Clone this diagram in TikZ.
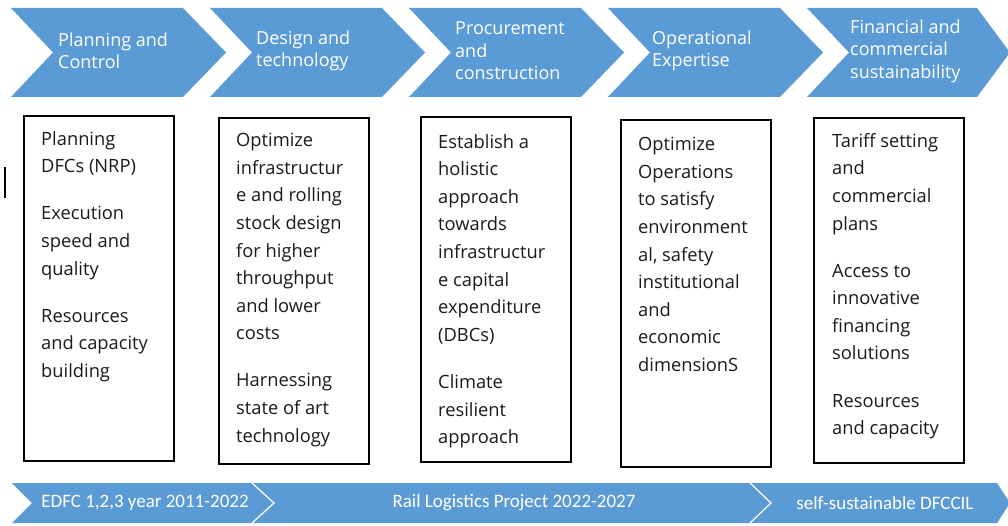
\documentclass[tikz,border=0pt]{standalone}
\usepackage{fontspec}
\setmainfont{Open Sans}
\newfontfamily\barfont{Carlito}
\definecolor{stageblue}{HTML}{5B9BD5}
\definecolor{inkgray}{HTML}{1A1A1A}
\begin{document}
\begin{tikzpicture}[x=1pt,y=-1pt,
  chev/.style={fill=stageblue, draw=none},
  stagetext/.style={text=white, align=left, anchor=west, inner sep=0pt,
    font=\fontsize{18}{22.5}\selectfont},
  listbox/.style={draw=black, line width=1.4pt},
  listtext/.style={text=inkgray, align=left, anchor=north west, inner sep=0pt,
    font=\fontsize{18.3}{27.6}\selectfont},
  bartext/.style={text=white, inner sep=0pt, font=\barfont\fontsize{19}{22}\selectfont},
  divider/.style={draw=white, line width=1.2pt}]
\useasboundingbox (0,0) rectangle (1008,526);
\fill[white] (0,0) rectangle (1008,526);

% stage chevrons along the top
\foreach \x in {11,210,409,608}
  \fill[chev] (\x,8) -- ++(172,0) -- ++(43,44.5) -- ++(-43,44.5) -- ++(-172,0) -- ++(42,-44.5) -- cycle;
\fill[chev] (807,8) -- (977,8) -- (1010,52.5) -- (977,97) -- (807,97) -- (849,52.5) -- cycle;

\node[stagetext] (s1) at (58,51) {Planning and\\Control};
\node[stagetext] (s2) at (256,51) {Design and\\technology};
\node[stagetext] (s3) at (455,51) {Procurement\\and\\construction};
\node[stagetext] (s4) at (652,51) {Operational\\Expertise};
\node[stagetext] (s5) at (850,51) {Financial and\\commercial\\sustainability};

% stray text cursor mark
\draw[line width=1.3pt] (5,167) -- (5,198);

% boxes listing the goals of each stage
\draw[listbox] (24,116) rectangle (174,461);
\draw[listbox] (219,118) rectangle (369,464);
\draw[listbox] (421,117) rectangle (571,462);
\draw[listbox] (621,120) rectangle (771,467);
\draw[listbox] (814,118) rectangle (964,463);

\node[listtext] (t1) at (41,131) {Planning\\DFCs (NRP)\\[19.5pt]Execution\\speed and\\quality\\[19.5pt]Resources\\and capacity\\building};
\node[listtext] (t2) at (236,133) {Optimize\\infrastructur\\e and rolling\\stock design\\for higher\\throughput\\and lower\\costs\\[19.5pt]Harnessing\\state of art\\technology};
\node[listtext] (t3) at (438,134) {Establish a\\holistic\\approach\\towards\\infrastructur\\e capital\\expenditure\\(DBCs)\\[19.5pt]Climate\\resilient\\approach};
\node[listtext] (t4) at (638,137) {Optimize\\Operations\\to satisfy\\environment\\al, safety\\institutional\\and\\economic\\dimensionS};
\node[listtext] (t5) at (832,133) {Tariff setting\\and\\commercial\\plans\\[19.5pt]Access to\\innovative\\financing\\solutions\\[19.5pt]Resources\\and capacity};

% timeline bar along the bottom
\fill[chev] (12,483) -- (997,483) -- (1010,503) -- (997,523) -- (12,523) -- (32,503) -- cycle;
\draw[divider] (252,483) -- (274,503) -- (252,523);
\draw[divider] (750,483) -- (771,503) -- (750,523);

\node[bartext] (b1) at (145,503) {EDFC 1,2,3 year 2011-2022};
\node[bartext] (b2) at (514,503) {Rail Logistics Project 2022-2027};
\node[bartext] (b3) at (885,503) {self-sustainable DFCCIL};
\end{tikzpicture}
\end{document}
